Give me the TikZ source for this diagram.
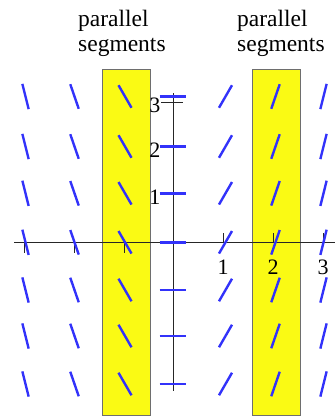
\documentclass[tikz,border=0pt]{standalone}
\usepackage{fontspec}
\setmainfont{Liberation Serif}
\definecolor{bandyellow}{RGB}{250,250,20}
\definecolor{fieldblue}{RGB}{50,50,250}
\definecolor{bandedge}{RGB}{110,110,110}
\begin{document}
\begin{tikzpicture}[x=1pt,y=-1pt,
  band/.style={draw=bandedge,fill=bandyellow,line width=1pt},
  slopemark/.style={draw=fieldblue,line width=2.4pt},
  axisline/.style={draw=black!85,line width=1pt},
  lbl/.style={inner sep=0pt,font=\fontsize{22}{25}\selectfont},
  title/.style={inner sep=0pt,font=\fontsize{23.5}{26}\selectfont}]
\useasboundingbox (0,0) rectangle (335,420);
% bands
\path[band] (102.7,69) rectangle (150.7,415);
\path[band] (252.3,69) rectangle (300,415);
% axes
\coordinate (xl) at (14,242);
\coordinate (xr) at (335,242);
\coordinate (yt) at (173.3,93);
\coordinate (yb) at (173.3,391);
\draw[axisline] (xl) -- (xr);
\draw[axisline] (yt) -- (yb);
% x ticks
\foreach \tx in {24,74,124} \draw[axisline] (\tx,242) -- (\tx,253);
\foreach \tx in {223,273,323} \draw[axisline] (\tx,233) -- (\tx,242);
\draw[axisline] (173.3,233) -- (173.3,252);
% y ticks
\foreach \ty in {102,147,193,290,336,383} \draw[axisline] (161,\ty) -- (183,\ty);
% slope field
\foreach \cx/\ang in {25.5/-76, 74.5/-71, 125/-60, 172.5/0, 225.5/60, 275.5/71, 323.5/76}{
  \foreach \cy in {96.5,146.5,193.3,242.3,290,336,384}{
    \draw[slopemark] (\cx,\cy) ++({-13*cos(\ang)},{13*sin(\ang)}) -- ++({26*cos(\ang)},{-26*sin(\ang)});
  }
}
% labels
\node[lbl] (lx1) at (223,267.5) {1};
\node[lbl] (lx2) at (273,267.5) {2};
\node[lbl] (lx3) at (323,267.5) {3};
\node[lbl,anchor=east] (ly3) at (160.5,105) {3};
\node[lbl,anchor=east] (ly2) at (160.5,150) {2};
\node[lbl,anchor=east] (ly1) at (160.5,197) {1};
\node[title,anchor=base west] (t1a) at (78,26.7) {parallel};
\node[title,anchor=base west] (t1b) at (78,51.7) {segments};
\node[title,anchor=base west] (t2a) at (237,26.7) {parallel};
\node[title,anchor=base west] (t2b) at (237,51.7) {segments};
\end{tikzpicture}
\end{document}
